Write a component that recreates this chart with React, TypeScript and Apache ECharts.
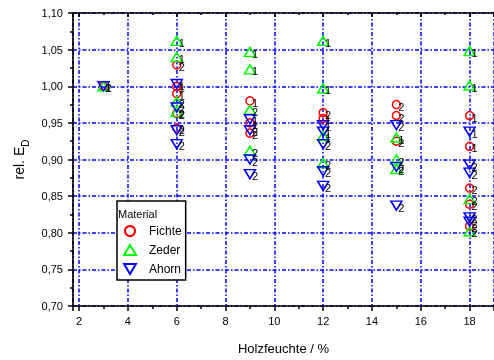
import React, { useEffect, useRef } from "react";
import * as echarts from "echarts";

// [Holzfeuchte %, rel. E_D, specimen label]
const fichte: [number, number, string][] = [
  [3, 1.0, "1"],
  [6, 1.029, "2"], [6, 1.0, "1"], [6, 0.99, "1"], [6, 0.963, "2"], [6, 0.943, "2"],
  [9, 0.98, "1"], [9, 0.95, "1"], [9, 0.936, "2"],
  [12, 0.964, "2"], [12, 0.956, "1"],
  [15, 0.975, "2"], [15, 0.96, "2"], [15, 0.925, "2"],
  [18, 0.96, "1"], [18, 0.918, "1"], [18, 0.861, "2"], [18, 0.839, "2"], [18, 0.809, "2"],
];
const zeder: [number, number, string][] = [
  [3, 1.0, "1"],
  [6, 1.062, "1"], [6, 1.04, "1"], [6, 0.979, "2"], [6, 0.965, "2"],
  [9, 1.047, "1"], [9, 1.023, "1"], [9, 0.968, "2"], [9, 0.912, "2"],
  [12, 1.062, "1"], [12, 0.997, "1"], [12, 0.932, "1"], [12, 0.895, "2"],
  [15, 0.93, "1"], [15, 0.9, "2"], [15, 0.887, "2"],
  [18, 1.048, "1"], [18, 1.001, "1"], [18, 0.846, "2"], [18, 0.802, "2"],
];
const ahorn: [number, number, string][] = [
  [3, 1.0, "2"],
  [6, 1.003, "1"], [6, 0.971, "2"], [6, 0.94, "2"], [6, 0.921, "2"],
  [9, 0.955, "1"], [9, 0.94, "2"], [9, 0.9, "2"], [9, 0.88, "2"],
  [12, 0.947, "1"], [12, 0.938, "1"], [12, 0.921, "2"], [12, 0.884, "2"], [12, 0.864, "2"],
  [15, 0.947, "2"], [15, 0.89, "2"], [15, 0.837, "2"],
  [18, 0.938, "1"], [18, 0.893, "2"], [18, 0.882, "2"], [18, 0.821, "2"], [18, 0.815, "2"],
];
const materials = ["Fichte", "Zeder", "Ahorn"];
const yTicks = [0.7, 0.75, 0.8, 0.85, 0.9, 0.95, 1.0, 1.05, 1.1];

const FONT = "Liberation Sans, Arial, sans-serif";
const BLUE = "#0000ff";
const DOWN_TRI = "path://M0,0 L10,0 L5,8.5 Z";

export default function App() {
  const ref = useRef<HTMLDivElement>(null);
  useEffect(() => {
    if (!ref.current) return;
    const chart = echarts.init(ref.current, undefined, { renderer: "svg" });
    const gridLine = { show: true, lineStyle: { color: BLUE, width: 1.5, type: [4, 2, 1.5, 2] as any } };
    const axisLineStyle = { show: true, onZero: false, lineStyle: { color: "#000", width: 1.6 } };
    const label = {
      show: true,
      position: "inside" as const,
      offset: [5, 2],
      color: "#000",
      fontSize: 11,
      fontFamily: FONT,
      formatter: (p: any) => p.data[2],
    };
    const mk = (name: string, data: any[], symbol: string, size: any, color: string) => ({
      type: "scatter",
      name,
      data,
      symbol,
      symbolSize: size,
      symbolKeepAspect: false,
      itemStyle: { color: "rgba(0,0,0,0)", borderColor: color, borderWidth: 1.5, opacity: 1 },
      label,
      emphasis: { disabled: true },
    });
    chart.setOption({
      animation: false,
      textStyle: { fontFamily: FONT },
      grid: { left: 73, top: 13, right: -1, bottom: 49 },
      legend: {
        data: materials,
        orient: "vertical",
        left: 117,
        top: 201,
        padding: [24, 4, 5, 6],
        itemWidth: 12,
        itemHeight: 10,
        itemGap: 7,
        backgroundColor: "#fff",
        borderColor: "#000",
        borderWidth: 1.5,
        borderRadius: 0,
        textStyle: { fontSize: 12, color: "#000", fontFamily: FONT, padding: [0, 0, 0, 8] },
      },
      graphic: [
        { type: "text", left: 118, top: 208, z: 100, style: { text: "Material", fontSize: 11, fill: "#000", fontFamily: FONT } },
      ],
      xAxis: [
        {
          type: "value",
          min: 1.75,
          max: 19,
          minInterval: 2,
          maxInterval: 2,
          name: "Holzfeuchte / %",
          nameLocation: "middle",
          nameGap: 36,
          nameTextStyle: { fontSize: 13, color: "#000", fontFamily: FONT },
          axisLine: axisLineStyle,
          axisTick: { show: true, length: 5, lineStyle: { color: "#000", width: 1.5 } },
          minorTick: { show: true, splitNumber: 2, length: 3, lineStyle: { color: "#000", width: 1.5 } },
          axisLabel: {
            fontSize: 11,
            color: "#000",
            margin: 9,
            showMinLabel: false,
            showMaxLabel: false,
            formatter: (v: number) => (Math.abs(v % 2) < 1e-9 ? String(v) : ""),
          },
          splitLine: gridLine,
        },
        {
          type: "value",
          position: "top",
          min: 1.75,
          max: 19,
          minInterval: 2,
          maxInterval: 2,
          axisLine: axisLineStyle,
          axisTick: { show: true, inside: true, length: 4, lineStyle: { color: "#000", width: 1.5 } },
          minorTick: { show: true, splitNumber: 2, length: 2, lineStyle: { color: "#000", width: 1.5 } },
          axisLabel: { show: false },
          splitLine: { show: false },
        },
      ],
      yAxis: [
        {
          type: "value",
          min: yTicks[0],
          max: yTicks[yTicks.length - 1],
          interval: 0.05,
          name: "{a|rel. E}{b|D}",
          nameLocation: "middle",
          nameGap: 47,
          nameTextStyle: {
            color: "#000",
            rich: {
              a: { fontSize: 14, fontFamily: FONT, color: "#000", lineHeight: 20, verticalAlign: "bottom" },
              b: { fontSize: 10, fontFamily: FONT, color: "#000", lineHeight: 20, verticalAlign: "bottom", padding: [0, 0, -4, 0] },
            },
          },
          axisLine: axisLineStyle,
          axisTick: { show: true, length: 5, lineStyle: { color: "#000", width: 1.5 } },
          minorTick: { show: true, splitNumber: 2, length: 3, lineStyle: { color: "#000", width: 1.5 } },
          axisLabel: {
            fontSize: 11,
            color: "#000",
            margin: 10,
            formatter: (v: number) => v.toFixed(2).replace(".", ","),
          },
          splitLine: gridLine,
        },
      ],
      series: [
        mk(materials[0], fichte, "circle", 8, "#ff0000"),
        mk(materials[1], zeder, "triangle", [11, 9], "#00ff00"),
        mk(materials[2], ahorn, DOWN_TRI, [11, 9], BLUE),
      ],
    });
    return () => chart.dispose();
  }, []);
  return <div ref={ref} style={{ position: "fixed", left: 0, top: 0, width: 494, height: 360 }} />;
}
